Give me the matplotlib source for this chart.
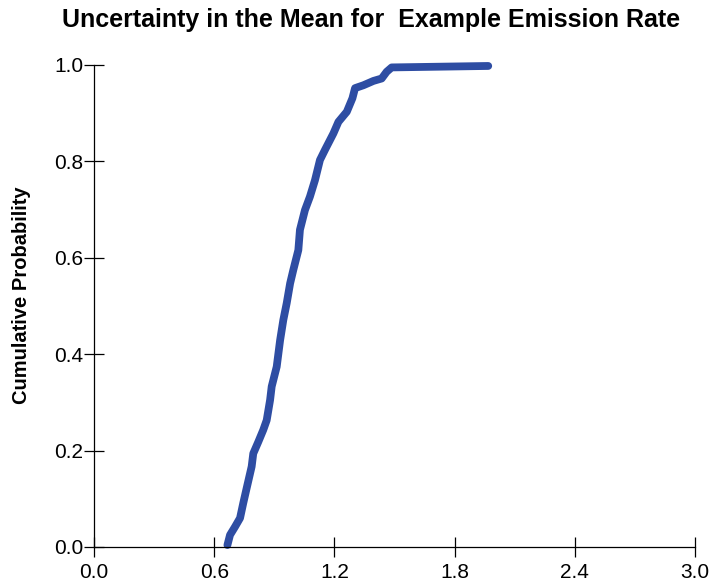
import matplotlib
matplotlib.use('Agg')
import matplotlib.pyplot as plt

emission_rate = [0.666, 0.679, 0.704, 0.729, 0.745, 0.762, 0.787, 0.795, 0.820,
                 0.845, 0.862, 0.879, 0.887, 0.912, 0.929, 0.945, 0.962, 0.979,
                 0.995, 1.020, 1.028, 1.053, 1.078, 1.103, 1.128, 1.153, 1.195,
                 1.220, 1.262, 1.290, 1.303, 1.345, 1.395, 1.436, 1.461, 1.486,
                 1.968]
cum_prob = [0.004, 0.025, 0.042, 0.060, 0.091, 0.122, 0.167, 0.194, 0.218,
            0.243, 0.263, 0.305, 0.333, 0.374, 0.429, 0.471, 0.506, 0.547,
            0.575, 0.616, 0.658, 0.699, 0.727, 0.761, 0.803, 0.824, 0.858,
            0.882, 0.903, 0.931, 0.952, 0.958, 0.967, 0.972, 0.986, 0.995,
            0.998]

x_ticks = [0.0, 0.6, 1.2, 1.8, 2.4, 3.0]
y_ticks = [0.0, 0.2, 0.4, 0.6, 0.8, 1.0]

plt.rcParams['font.family'] = ['Liberation Sans', 'DejaVu Sans']

fig = plt.figure(figsize=(7.1, 5.81), dpi=100)
ax = fig.add_axes([94 / 710, 34 / 581, 601 / 710, 482 / 581])

ax.plot(emission_rate, cum_prob, color='#2e4da3', lw=5.6,
        solid_capstyle='round', solid_joinstyle='round', clip_on=False)

ax.set_xlim(0, 3.0)
ax.set_ylim(0, 1.0)
ax.set_xticks(x_ticks)
ax.set_yticks(y_ticks)
ax.set_xticklabels([f'{v:.1f}' for v in x_ticks])
ax.set_yticklabels([f'{v:.1f}' for v in y_ticks])
ax.tick_params(direction='inout', length=15, width=0.9, labelsize=15)
ax.tick_params(axis='x', pad=4)
ax.tick_params(axis='y', pad=0)
for s in ('top', 'right'):
    ax.spines[s].set_visible(False)
for s in ('left', 'bottom'):
    ax.spines[s].set_linewidth(0.9)

ax.set_ylabel('Cumulative Probability', fontsize=14.5, fontweight='bold')
ax.yaxis.set_label_coords(-0.104, 0.523)
fig.text(371 / 710, 1 - 20 / 581, 'Uncertainty in the Mean for  Example Emission Rate',
         ha='center', va='center', fontsize=18, fontweight='bold')

fig.savefig('out.png', dpi=100)
